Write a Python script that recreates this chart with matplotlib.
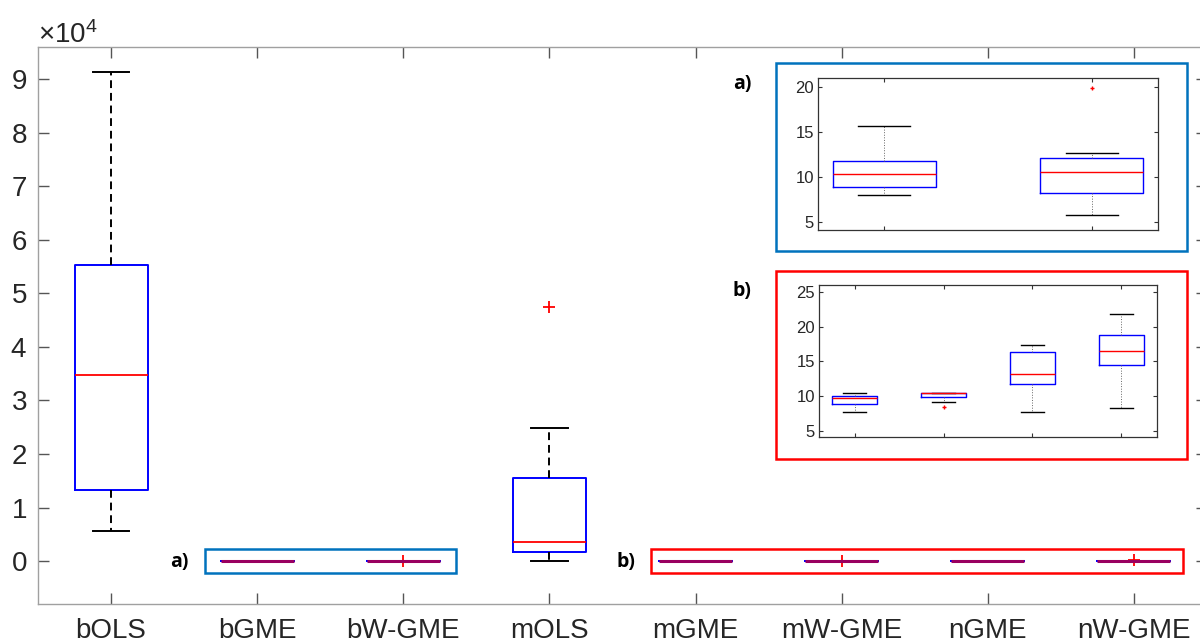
import numpy as np
import matplotlib.pyplot as plt
from matplotlib.patches import Rectangle
from matplotlib.ticker import ScalarFormatter

plt.rcParams['font.family'] = ['Liberation Sans', 'DejaVu Sans']
plt.rcParams['mathtext.fontset'] = 'custom'
plt.rcParams['mathtext.rm'] = 'Liberation Sans'

# box statistics (main axis in raw units, insets show the small ones)
labels = ['bOLS', 'bGME', 'bW-GME', 'mOLS', 'mGME', 'mW-GME', 'nGME', 'nW-GME']
whislo = [5700, 7.96, 5.81, 60, 7.64, 9.13, 7.74, 8.27]
q1 = [13200, 8.93, 8.22, 1700, 8.90, 9.80, 11.73, 14.52]
med = [34700, 10.37, 10.52, 3500, 9.66, 10.43, 13.22, 16.49]
q3 = [55300, 11.80, 12.07, 15600, 10.00, 10.48, 16.30, 18.75]
whishi = [91300, 15.67, 12.67, 24800, 10.48, 10.50, 17.31, 21.83]
fliers = [[], [], [19.9], [47500], [], [8.46], [], [280]]

big_idx = [0, 3]
small_idx = [1, 2, 4, 5, 6, 7]
inset_a_idx = [1, 2]
inset_b_idx = [4, 5, 6, 7]


def make_stats(idx):
    return [dict(label=labels[i], whislo=whislo[i], q1=q1[i], med=med[i],
                 q3=q3[i], whishi=whishi[i], fliers=fliers[i]) for i in idx]


W, H = 1200, 643


def px_rect(l, t, r, b):
    return [l / W, 1 - b / H, (r - l) / W, (b - t) / H]


fig = plt.figure(figsize=(12, 6.43), dpi=100)

# ---- main axis ----
ax = fig.add_axes(px_rect(38, 47, 1207, 604))
ax.set_zorder(0)
main_kw = dict(widths=0.5, capwidths=0.25, showfliers=True,
               boxprops=dict(color='#0000ff', lw=1.4),
               whiskerprops=dict(color='black', lw=1.4, linestyle=(0, (4, 2.5))),
               capprops=dict(color='black', lw=1.4),
               flierprops=dict(marker='+', markeredgecolor='red', markersize=9,
                               markeredgewidth=1.3, linestyle='none'))
ax.bxp(make_stats(big_idx), positions=[i + 1 for i in big_idx],
       medianprops=dict(color='red', lw=1.3), **main_kw)
ax.bxp(make_stats(small_idx), positions=[i + 1 for i in small_idx],
       medianprops=dict(color='#990060', lw=2.2), **main_kw)

ax.set_xlim(0.5, 8.5)
ax.set_ylim(-0.8e4, 9.6e4)
ax.set_xticks(range(1, 9))
ax.set_xticklabels(labels)
ax.set_yticks(np.arange(0, 10) * 1e4)
fmt = ScalarFormatter(useMathText=True)
fmt.set_powerlimits((0, 0))
ax.yaxis.set_major_formatter(fmt)
ax.yaxis.get_offset_text().set_fontsize(20)
ax.yaxis.get_offset_text().set_color('#262626')
for s in ax.spines.values():
    s.set_color('#a0a0a0')
    s.set_linewidth(1)
ax.tick_params(direction='in', length=8, width=1, color='#555555',
               top=True, right=True, labelsize=20, labelcolor='#262626')
ax.tick_params(axis='x', pad=10)
ax.tick_params(axis='y', pad=8)

ab_font = ['Open Sans', 'DejaVu Sans']

# small marker boxes around the near-zero groups
for (l, t, r, b), c, lab, lx in [((205, 549, 456, 573), '#0072BD', 'a)', 179),
                                  ((651, 549, 1183, 573), '#ff0000', 'b)', 626)]:
    x0, y0, w, h = px_rect(l, t, r, b)
    fig.add_artist(Rectangle((x0, y0), w, h, transform=fig.transFigure,
                             fill=False, edgecolor=c, lw=1.8, zorder=3))
    fig.text(lx / W, 1 - 562 / H, lab, ha='center', va='center', fontsize=14,
             fontweight='bold', family=ab_font, zorder=3)

# big frames around insets
for (l, t, r, b), c, lab, ly in [((776, 63, 1187, 251), '#0072BD', 'a)', 84),
                                  ((776, 271, 1187, 459), '#ff0000', 'b)', 291)]:
    x0, y0, w, h = px_rect(l, t, r, b)
    fig.add_artist(Rectangle((x0, y0), w, h, transform=fig.transFigure,
                             facecolor='white', edgecolor=c, lw=1.8, zorder=1))
    fig.text(742 / W, 1 - ly / H, lab, ha='center', va='center', fontsize=14,
             fontweight='bold', family=ab_font, zorder=3)

inset_kw = dict(widths=0.5, capwidths=0.25, showfliers=True,
                boxprops=dict(color='#0000ff', lw=1.0),
                whiskerprops=dict(color='#666666', lw=0.7, linestyle=':'),
                capprops=dict(color='black', lw=1.0),
                medianprops=dict(color='red', lw=1.0),
                flierprops=dict(marker='+', markeredgecolor='red', markersize=3,
                                markeredgewidth=1.0, linestyle='none'))


def style_inset(a):
    a.set_zorder(2)
    for s in a.spines.values():
        s.set_color('#333333')
        s.set_linewidth(0.9)
    a.tick_params(direction='in', length=3, width=0.8, color='#333333',
                  top=True, right=True, labelsize=12, labelcolor='#262626', pad=3)


# ---- inset a ----
ax_a = fig.add_axes(px_rect(818, 78, 1158, 230))
ax_a.bxp(make_stats(inset_a_idx), positions=[1, 2], **inset_kw)
ax_a.set_xlim(0.68, 2.32)
ax_a.set_ylim(4.1, 21)
ax_a.set_yticks([5, 10, 15, 20])
ax_a.set_xticks([1, 2])
ax_a.set_xticklabels(['', ''])
style_inset(ax_a)

# ---- inset b ----
ax_b = fig.add_axes(px_rect(819, 285, 1157, 437))
ax_b.bxp(make_stats(inset_b_idx), positions=[1, 2, 3, 4], **inset_kw)
ax_b.set_xlim(0.6, 4.4)
ax_b.set_ylim(4.1, 26)
ax_b.set_yticks([5, 10, 15, 20, 25])
ax_b.set_xticks([1, 2, 3, 4])
ax_b.set_xticklabels(['', '', '', ''])
style_inset(ax_b)

fig.savefig('out.png', dpi=100)
